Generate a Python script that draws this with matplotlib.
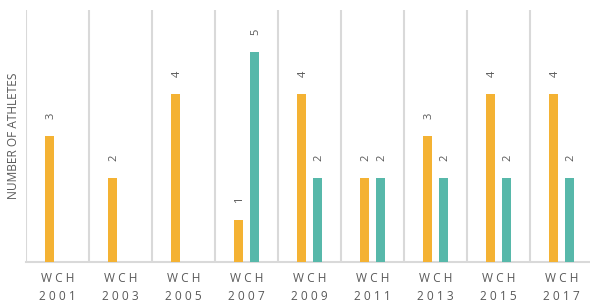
import matplotlib
matplotlib.use("Agg")
import matplotlib.pyplot as plt
import numpy as np

categories = ["W C H\n2 0 0 1", "W C H\n2 0 0 3", "W C H\n2 0 0 5", "W C H\n2 0 0 7",
              "W C H\n2 0 0 9", "W C H\n2 0 1 1", "W C H\n2 0 1 3", "W C H\n2 0 1 5",
              "W C H\n2 0 1 7"]
series_a = [3, 2, 4, 1, 4, 2, 3, 4, 4]
series_b = [0, 0, 0, 5, 2, 2, 2, 2, 2]

orange = "#F4B233"
teal = "#57B8AA"
grid_c = "#D9D9D9"
text_c = "#595959"

plt.rcParams['font.family'] = ['Open Sans', 'DejaVu Sans']

fig = plt.figure(figsize=(5.9, 3.02), dpi=100)
ax = fig.add_axes([26/590, 40/302, 567/590, 252/302])

n = len(categories)
x = np.arange(n) + 0.5
w = 0.143
off = 0.127

ax.bar(x - off, series_a, width=w, color=orange, zorder=3)
mask = np.array(series_b) > 0
ax.bar(x[mask] + off, np.array(series_b)[mask], width=w, color=teal, zorder=3)

for xi, v in zip(x, series_a):
    ax.annotate(str(v), (xi - off, v), xytext=(1, 14.5), textcoords="offset points",
                ha="center", va="center", rotation=90, fontsize=8, color=text_c)
for xi, v in zip(x, series_b):
    if v > 0:
        ax.annotate(str(v), (xi + off, v), xytext=(1, 14.5), textcoords="offset points",
                    ha="center", va="center", rotation=90, fontsize=8, color=text_c)

ax.set_xlim(0, n)
ax.set_ylim(0, 6)
for i in range(n + 1):
    ax.axvline(i, color=grid_c, lw=1.5, zorder=1)

ax.set_xticks(x)
ax.set_xticklabels(categories, fontsize=8.6, color=text_c, linespacing=1.5)
ax.tick_params(axis="x", length=0, pad=7)
ax.set_yticks([])

for s in ["top", "right", "left"]:
    ax.spines[s].set_visible(False)
ax.spines["bottom"].set_color(grid_c)
ax.spines["bottom"].set_linewidth(1.5)

fig.text(14/590, 1 - 136/302, "NUMBER OF ATHLETES", rotation=90, ha="center", va="center",
         fontsize=8.6, color=text_c)

fig.savefig("out.png", dpi=100)
